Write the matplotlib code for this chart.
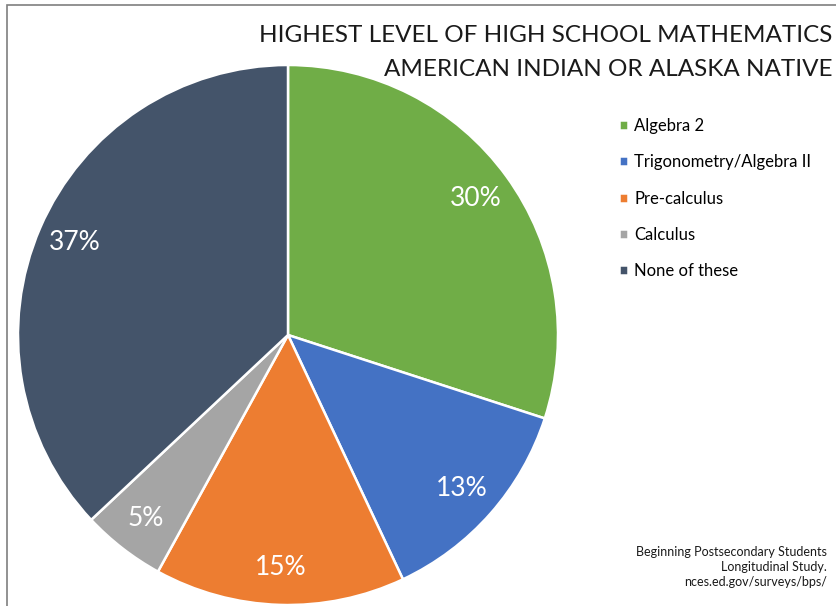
import matplotlib.pyplot as plt
from matplotlib.patches import Rectangle
from matplotlib import font_manager

# Chart data
categories = ['Algebra 2', 'Trigonometry/Algebra II', 'Pre-calculus', 'Calculus', 'None of these']
shares = [30, 13, 15, 5, 37]
colors = ['#70AD47', '#4472C4', '#ED7D31', '#A5A5A5', '#44546A']

title_lines = ['HIGHEST LEVEL OF HIGH SCHOOL MATHEMATICS', 'AMERICAN INDIAN OR ALASKA NATIVE']
source_text = 'Beginning Postsecondary Students\nLongitudinal Study.\nnces.ed.gov/surveys/bps/'

names = {f.name for f in font_manager.fontManager.ttflist}
body_font = 'Lato' if 'Lato' in names else 'DejaVu Sans'

W, H = 836, 606
fig = plt.figure(figsize=(W / 100, H / 100), dpi=100)
fig.patch.set_facecolor('white')

# chart frame (only left and top edges are visible)
fig.add_artist(Rectangle((7 / W, -0.1), 1.2, (H - 5) / H + 0.1, transform=fig.transFigure,
                         fill=False, edgecolor='#7f7f7f', linewidth=1.2))

ax = fig.add_axes([18 / W, 1 / H, 540 / W, 540 / H])
wedges, texts, autotexts = ax.pie(
    shares, colors=colors, startangle=90, counterclock=False,
    autopct='%d%%', pctdistance=0.86,
    wedgeprops=dict(edgecolor='white', linewidth=1.8),
    textprops=dict(color='white', fontsize=19, family=body_font))
ax.set_aspect('equal')
ax.set_xlim(-1.0, 1.0)
ax.set_ylim(-1.0, 1.0)

fig.text(832 / W, 1 - 35 / H, title_lines[0], ha='right', va='center',
         fontsize=17.5, family=body_font, color='#1a1a1a')
fig.text(832 / W, 1 - 70 / H, title_lines[1], ha='right', va='center',
         fontsize=17.5, family=body_font, color='#1a1a1a')

fig.legend(wedges, categories, loc='upper left', bbox_to_anchor=(604 / W, 1 - 103 / H),
           frameon=False, handlelength=0.55, handleheight=0.55, handletextpad=0.35,
           labelspacing=1.22, prop=dict(family=body_font, size=12))

fig.text(827 / W, 1 - 567 / H, source_text, ha='right', va='center', multialignment='right',
         fontsize=9, family=body_font, color='#1a1a1a', linespacing=1.33)

fig.savefig('out.png', dpi=100)
